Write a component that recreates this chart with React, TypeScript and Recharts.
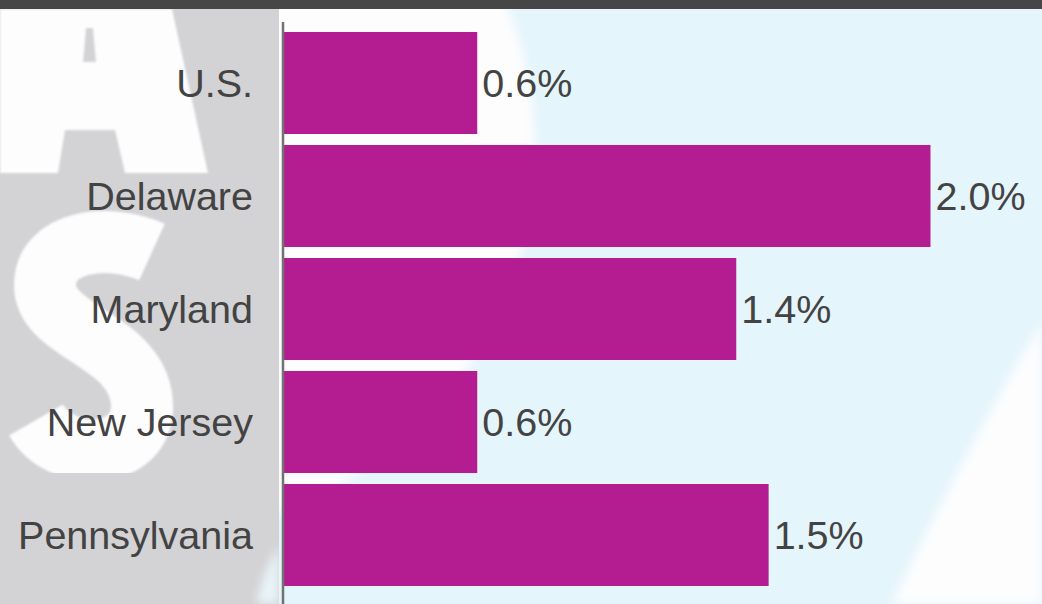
import { Bar, BarChart, LabelList, XAxis, YAxis } from "recharts"

const states = ["U.S.", "Delaware", "Maryland", "New Jersey", "Pennsylvania"]
const growth = [0.6, 2.0, 1.4, 0.6, 1.5]

const chartData = states.map((name, i) => ({ name, growth: growth[i] }))

const font = "'Liberation Sans', Arial, sans-serif"
const textColor = "#434343"

function Backdrop() {
  return (
    <svg width={1042} height={604} style={{ position: "absolute", left: 0, top: 0 }}>
      <defs>
        <filter id="soft" x="-20%" y="-20%" width="140%" height="140%">
          <feGaussianBlur stdDeviation="5" />
        </filter>
        <filter id="edge" x="-5%" y="-5%" width="110%" height="110%">
          <feGaussianBlur stdDeviation="1.2" />
        </filter>
      </defs>
      <rect x={0} y={0} width={1042} height={604} fill="#e5f5fc" />
      <circle cx={150} cy={150} r={385} fill="#fdfdfe" filter="url(#soft)" />
      <path d="M1042 322 Q 965 450 892 604 L1042 604 Z" fill="#fdfdfe" filter="url(#soft)" />
      <rect x={0} y={0} width={279} height={604} fill="#d3d2d4" />
      <path d="M279 545 Q 262 572 256 604 L279 604 Z" fill="#e8f4f8" filter="url(#soft)" />
      <g filter="url(#edge)">
        <polygon
          points="0,9 172,9 208,173 125,173 115,130 65,130 58,173 0,173"
          fill="#fdfdfe"
        />
        <polygon points="86,28 93,28 96,62 83,62" fill="#d3d2d4" />
        <path
          d="M152 252 C 110 233, 45 240, 45 285 C 45 335, 145 340, 142 410 C 138 462, 60 462, 36 420"
          fill="none"
          stroke="#fdfdfe"
          strokeWidth={62}
        />
      </g>
      <rect x={0} y={0} width={1042} height={9} fill="#464646" />
    </svg>
  )
}

export default function App() {
  return (
    <div
      style={{
        position: "absolute",
        left: 0,
        top: 0,
        width: 1042,
        height: 604,
        overflow: "hidden",
      }}
    >
      <Backdrop />
      <div style={{ position: "absolute", left: 0, top: 0 }}>
        <BarChart
          width={1060}
          height={604}
          data={chartData}
          layout="vertical"
          margin={{ top: 22, right: 0, bottom: 0, left: 0 }}
        >
          <XAxis type="number" domain={[0, 2.4]} hide />
          <YAxis
            type="category"
            dataKey="name"
            width={283}
            padding={{ top: 4, bottom: 13 }}
            tickLine={false}
            tickSize={0}
            tickMargin={30}
            axisLine={{ stroke: "#727272", strokeWidth: 2.5 }}
            tick={{ fill: textColor, fontSize: 39.5, fontFamily: font }}
          />
          <Bar dataKey="growth" fill="#b41c91" barSize={102} isAnimationActive={false}>
            <LabelList
              dataKey="growth"
              position="right"
              offset={5}
              formatter={(v: number) => `${v.toFixed(1)}%`}
              style={{ fill: textColor, fontSize: 39.5, fontFamily: font }}
            />
          </Bar>
        </BarChart>
      </div>
    </div>
  )
}
